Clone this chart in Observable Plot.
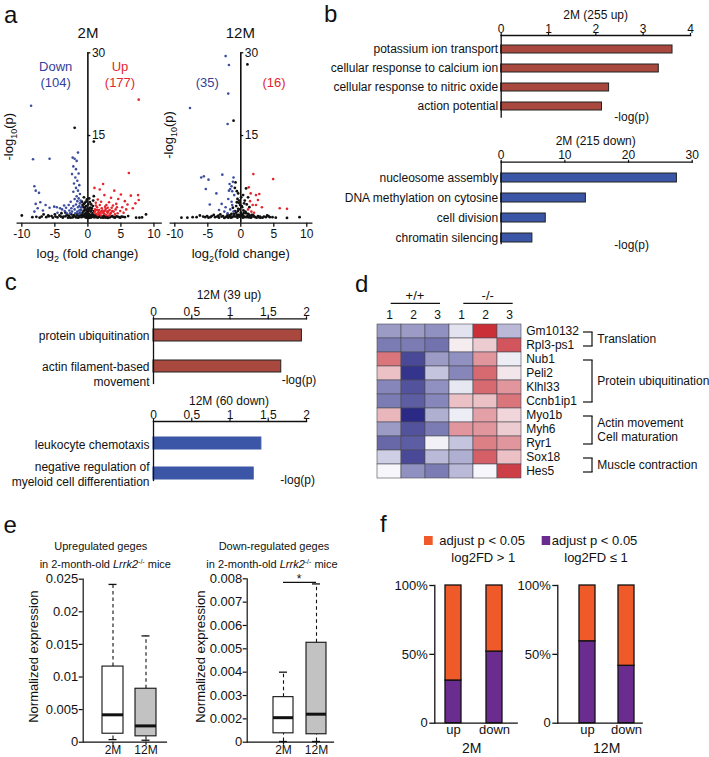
<!DOCTYPE html>
<html><head><meta charset="utf-8">
<script src="https://cdn.jsdelivr.net/npm/d3@7"></script>
<script src="https://cdn.jsdelivr.net/npm/@observablehq/plot@0.6"></script>
<style>
body{margin:0;background:#fff;}
#fig{position:relative;width:709px;height:757px;overflow:hidden;background:#fff;}
.p{position:absolute;}
.p svg{overflow:visible;}
</style></head><body><div id="fig"></div>
<script>
// ---------------- DATA ----------------
// a: volcano plots, [log2 fold change, -log10 p]
const volcanoXTicks = [-10, -5, 0, 5, 10];
const volcanoYTicks = [15, 30];
const v2mBlue = [[-8.6,20.4],[-8.3,10.7],[-5.8,10.8],[-8.1,5.8],[-7.9,5.0],[-7.4,4.6],[-7.9,2.6],[-7.2,2.9],[-6.4,2.4],[-7.6,1.8],[-8.1,1.2],[-6.8,1.4],[-5.8,1.9],[-5.1,2.1],[-4.7,2.0],[-4.2,1.8],[-3.9,1.6],[-3.5,1.3],[-4.6,1.0],[-3.2,0.9],[-2.8,1.4],[-2.5,1.8],[-2.2,2.2],[-2.0,1.6],[-1.8,2.5],[-1.6,3.1],[-1.5,2.0],[-1.3,1.4],[-1.2,2.7],[-1.1,1.0],[-2.3,11.0],[-2.0,10.8],[-1.7,10.4],[-1.5,11.9],[-2.2,9.4],[-1.8,8.9],[-1.4,8.1],[-2.4,8.0],[-1.9,7.4],[-1.6,6.8],[-2.1,6.3],[-1.3,6.0],[-1.8,5.5],[-1.5,5.0],[-2.2,4.8],[-1.2,4.4],[-1.7,4.0],[-2.0,3.5],[-1.4,3.6],[-2.6,3.0],[-1.1,3.2],[-2.9,2.4],[-3.3,1.9],[-2.4,1.2],[-1.9,0.9],[-1.4,0.8],[-1.0,2.0],[-3.6,2.3],[-1.3,2.2],[-1.6,1.2],[-1.0,1.5],[-2.7,0.9]];
const v2mRed = [[7.7,21.5],[6.2,8.2],[2.3,6.2],[1.8,5.2],[1.0,5.5],[2.5,4.2],[4.0,5.0],[5.0,4.3],[6.5,4.1],[7.6,4.2],[7.7,3.3],[5.6,3.1],[3.5,3.7],[4.6,3.5],[6.0,2.5],[6.8,1.8],[7.2,2.7],[5.2,2.0],[4.3,2.6],[3.2,2.9],[2.8,2.4],[1.5,3.4],[1.2,2.8],[2.0,3.0],[1.1,1.6],[1.4,2.0],[1.7,1.5],[2.1,1.8],[2.4,1.2],[2.7,1.7],[3.0,1.0],[3.3,1.5],[3.6,1.9],[3.9,1.2],[4.2,1.6],[4.5,0.9],[4.9,1.3],[5.4,1.0],[1.0,1.0],[1.3,0.8],[1.6,1.1],[1.9,0.9],[2.2,1.4],[2.5,0.8],[2.9,1.2],[3.4,0.8],[3.7,1.3],[4.1,0.7],[1.2,2.3],[1.8,2.4],[2.6,2.1],[3.0,1.9],[3.8,2.3],[4.4,2.0],[5.8,1.6],[1.5,0.6],[2.0,0.5],[2.8,0.6],[3.2,0.5],[1.1,1.3],[1.4,1.5],[2.3,1.0],[2.6,1.4],[3.1,1.3],[3.5,1.0],[1.7,0.8],[2.0,1.2]];
const v2mBlack = [[0.9,13.9],[-2.0,16.4],[0.9,4.0],[-10.0,0.5],[8.8,0.7],[7.3,0.1],[7.8,0.1],[8.2,0.15],[-8.4,0.2],[-7.8,0.25],[-7.0,0.3],[-6.3,0.2],[-5.5,0.4],[-4.9,0.3],[-4.3,0.5],[-3.7,0.3],[-3.2,0.6],[-2.8,0.2],[-2.5,0.7],[-2.2,0.4],[-1.9,0.3],[-1.6,0.6],[-1.3,0.2],[-1.0,0.5],[-0.8,1.0],[-0.6,0.3],[-0.5,1.5],[-0.4,0.7],[-0.3,2.2],[-0.2,0.4],[-0.1,1.1],[0,0.2],[0.1,0.8],[0.2,1.6],[0.3,0.3],[0.4,1.2],[0.5,2.5],[0.6,0.5],[0.7,0.9],[0.8,3.2],[0.9,0.2],[1.1,0.4],[1.3,0.2],[1.6,0.3],[1.9,0.2],[2.2,0.3],[2.5,0.2],[2.8,0.35],[3.1,0.2],[3.5,0.3],[3.9,0.2],[4.3,0.35],[4.7,0.2],[5.1,0.3],[5.6,0.2],[6.1,0.4],[-0.7,2.0],[-0.9,3.0],[-0.6,3.8],[0.3,2.9],[-1.1,1.5],[0.6,1.8],[-0.2,0.1],[0.15,0.05],[-0.35,0.15],[0.45,0.1],[-1.5,0.1],[1.5,0.1],[-2.3,0.15],[2.3,0.1],[-3.0,0.1],[3.0,0.05],[-0.45,2.8],[-0.15,3.4],[0.05,2.5],[-5.0,0.7],[-4.0,0.9],[-6.7,0.7],[-3.4,1.0],[-3.8,0.1],[-3.4,0.35],[-2.9,0.45],[-2.6,0.1],[-2.1,0.55],[-1.8,0.15],[-1.7,0.8],[-1.4,0.45],[-1.2,0.9],[-0.95,0.2],[-0.85,0.7],[-0.7,0.45],[-0.65,1.3],[-0.55,0.6],[-0.45,1.9],[-0.35,0.9],[-0.25,1.4],[-0.15,0.6],[-0.05,1.8],[0.05,0.4],[0.1,1.3],[0.25,0.7],[0.35,1.9],[0.45,0.5],[0.55,1.4],[0.65,0.25],[0.75,2.2],[0.85,0.6],[0.95,1.3],[1.05,0.2],[1.2,0.55],[1.4,0.35],[1.7,0.5],[2.0,0.15],[2.4,0.45],[2.7,0.1],[3.3,0.15],[3.7,0.4],[4.1,0.1],[4.5,0.3],[4.9,0.1],[5.3,0.25],[-5.3,0.1],[-4.6,0.15],[-4.1,0.3],[-5.9,0.35],[-0.6,2.6],[-0.3,3.0],[0.2,3.6],[-0.8,2.4],[-6.0,0.5],[-7.3,0.1]];
const v12mBlue = [[-2.3,29.4],[-1.8,27.8],[-1.9,22.6],[-7.7,20.0],[-2.0,17.1],[-6.0,7.4],[-5.6,7.6],[-4.9,7.0],[-2.8,7.9],[-5.3,5.3],[-3.7,4.5],[-4.7,2.5],[-2.9,2.6],[-1.7,6.2],[-1.4,5.8],[-1.6,5.3],[-1.2,6.6],[-1.1,7.4],[-1.8,5.0],[-1.3,4.9],[-1.0,4.2],[-1.9,3.5],[-2.3,2.0],[-2.5,1.2],[-1.6,1.6],[-1.3,2.4],[-3.3,1.5],[-2.0,0.9],[-1.1,1.2],[-1.4,3.0]];
const v12mRed = [[1.9,8.0],[4.9,7.1],[1.2,5.6],[1.5,4.5],[2.8,4.4],[2.3,4.2],[1.8,2.4],[2.3,2.4],[5.9,1.8],[7.0,1.7],[1.4,3.1],[2.6,3.3],[1.1,1.6],[3.2,2.0],[1.6,1.2],[2.0,1.0]];
const v12mBlack = [[1.0,27.9],[-1.1,17.7],[-0.8,6.5],[-0.9,5.5],[-0.6,4.9],[0.8,5.4],[1.1,3.8],[0.6,3.2],[0.9,2.5],[1.3,2.0],[-0.5,3.5],[-0.3,2.8],[-0.7,2.2],[0.2,2.0],[-9.0,0.1],[-8.1,0.1],[-7.3,0.2],[-6.2,0.5],[-5.7,0.3],[-5.1,0.4],[-4.6,0.2],[-4.1,0.6],[-3.6,0.3],[-3.1,0.7],[-2.7,0.4],[-2.3,0.2],[-2.0,0.6],[-1.7,0.3],[-1.4,0.8],[-1.1,0.4],[-0.9,1.3],[-0.6,0.6],[-0.4,1.7],[-0.2,0.3],[0,1.0],[0.2,0.5],[0.4,1.4],[0.6,0.2],[0.8,0.9],[1.0,0.4],[1.3,0.6],[1.6,0.2],[1.9,0.5],[2.2,0.2],[2.6,0.4],[3.0,0.1],[3.5,0.3],[4.0,0.5],[4.4,0.2],[5.3,0.1],[7.0,0.05],[8.9,0.2],[-0.1,2.4],[-1.2,1.9],[0.5,2.7],[-0.5,0.1],[0.3,0.1],[-1.5,0.1],[1.5,0.1],[2.8,0.15],[-3.3,0.1],[-6.7,0.2],[-2.5,0.05],[-2.1,0.35],[-1.9,0.1],[-1.6,0.55],[-1.3,0.2],[-1.0,0.75],[-0.85,0.3],[-0.7,1.0],[-0.55,0.4],[-0.45,1.3],[-0.3,0.6],[-0.15,1.6],[-0.05,0.3],[0.1,0.8],[0.15,2.2],[0.3,0.5],[0.45,0.9],[0.55,0.3],[0.7,1.2],[0.9,0.2],[1.1,0.8],[1.2,0.15],[1.4,0.4],[1.7,0.6],[2.0,0.3],[2.4,0.1],[2.9,0.3],[3.3,0.1],[3.8,0.2],[4.2,0.4],[4.8,0.2],[-3.9,0.2],[-4.4,0.4],[-4.9,0.1],[-5.4,0.2],[-2.9,0.3],[-3.4,0.45],[-0.25,3.2],[0.05,3.8],[-0.6,2.9],[0.35,4.2],[-0.4,4.5]];

// b: GO terms 2M
const bUpTerms = ["potassium ion transport", "cellular response to calcium ion", "cellular response to nitric oxide", "action potential"];
const bUpValues = [3.62, 3.33, 2.28, 2.13];
const bUpTicks = [0, 1, 2, 3, 4];
const bDownTerms = ["nucleosome assembly", "DNA methylation on cytosine", "cell division", "chromatin silencing"];
const bDownValues = [27.6, 13.3, 7.0, 4.9];
const bDownTicks = [0, 10, 20, 30];

// c: GO terms 12M
const cUpTerms = ["protein ubiquitination", "actin filament-based\nmovement"];
const cUpValues = [1.94, 1.67];
const cDownTerms = ["leukocyte chemotaxis", "negative regulation of\nmyeloid cell differentiation"];
const cDownValues = [1.41, 1.31];
const cTicks = [0, 0.5, 1, 1.5, 2];

// d: heatmap
const heatCols = ["+/+ 1", "+/+ 2", "+/+ 3", "-/- 1", "-/- 2", "-/- 3"];
const heatGenes = ["Gm10132", "Rpl3-ps1", "Nub1", "Peli2", "Klhl33", "Ccnb1ip1", "Myo1b", "Myh6", "Ryr1", "Sox18", "Hes5"];
const heatValues = [
  [-0.45, -0.45, -0.5, -0.1, 0.92, -0.3],
  [-0.6, -0.6, -0.65, 0.05, 0.2, 0.75],
  [0.6, -0.85, -0.45, -0.5, 0.45, -0.05],
  [0.25, -0.95, -0.25, -0.55, 0.65, 0.08],
  [-0.55, -0.8, -0.5, -0.08, 0.65, 0.45],
  [-0.6, -0.75, -0.55, 0.25, 0.25, 0.6],
  [0.3, -1.0, -0.35, -0.05, 0.4, 0.15],
  [-0.45, -0.8, -0.6, 0.45, 0.45, 0.2],
  [-0.7, -0.75, -0.03, -0.25, 0.55, 0.45],
  [-0.2, -0.85, -0.3, -0.35, 0.7, 0.25],
  [0, -0.5, -0.6, -0.3, 0, 0.85]
];
const heatBrackets = [[0, 1], [2, 5], [6, 8], [9, 10]];
const heatGroupLabels = ["Translation", "Protein ubiquitination", "Actin movement", "Cell maturation", "Muscle contraction"];
const heatGroupRows = [[0, 1], [2, 5], [6, 7], [7, 8], [9, 10]];

// e: box plots [min, q1, median, q3, max]
const eGroups = ["2M", "12M"];
const eUp2M = [0.0004, 0.0013, 0.0042, 0.0116, 0.0242];
const eUp12M = [0.0003, 0.0009, 0.0025, 0.0082, 0.0163];
const eUpTicks = [0, 0.005, 0.01, 0.015, 0.02, 0.025];
const eDown2M = [0.00103, 0.00138, 0.00205, 0.00293, 0.0040];
const eDown12M = [0.00103, 0.00134, 0.0022, 0.00526, 0.00778];
const eDownTicks = [0.001, 0.002, 0.003, 0.004, 0.005, 0.006, 0.007, 0.008];
const eDownTickLabels = ["0", "0.002", "0.003", "0.004", "0.005", "0.006", "0.007", "0.008"];
const eDownSig = [0.00785];

// f: share of DE genes with log2FD <= 1 (%)
const fCats = ["up", "down"];
const fLow2M = [31, 52];
const fLow12M = [59.5, 41.7];
const fTicks = [0, 50, 100];

// ---------------- RENDER ----------------
const FONT = '"Liberation Sans", Arial, Helvetica, sans-serif';
const INK = "#111";
const fig = document.getElementById("fig");
function st(size) { return {fontFamily: FONT, fontSize: size + "px", background: "transparent", overflow: "visible", color: INK}; }
function place(svg, left, top) {
  const d = document.createElement("div");
  d.className = "p"; d.style.left = left + "px"; d.style.top = top + "px";
  d.style.width = svg.getAttribute("width") + "px";
  d.appendChild(svg); fig.appendChild(d); return svg;
}
const P = d => d[0], Q = d => d[1];

// ---- a: volcanoes
function volcano(black, blue, red, width, ml, mr, xDomain) {
  return Plot.plot({
    width, height: 210, marginTop: 12.3, marginBottom: 27.3, marginLeft: ml, marginRight: mr,
    style: st(12),
    x: {domain: xDomain}, y: {domain: [-0.9, 30], axis: null},
    marks: [
      Plot.dot(black, {x: P, y: Q, r: 1.4, fill: "#111"}),
      Plot.dot(blue, {x: P, y: Q, r: 1.3, fill: "#3c4d9e"}),
      Plot.dot(red, {x: P, y: Q, r: 1.3, fill: "#e3262d"}),
      Plot.ruleX([0], {strokeWidth: 1.6}),
      Plot.ruleY(volcanoYTicks, {y: d => d, x1: 0, x2: 0.45, strokeWidth: 1.3}),
      Plot.text(volcanoYTicks, {y: d => d, x: 0, text: d => String(d), dx: 4, textAnchor: "start", fontSize: 12}),
      Plot.axisX({ticks: volcanoXTicks, tickFormat: d => String(d), tickSize: 4, tickPadding: 2, strokeWidth: 1.3, label: null}),
      Plot.frame({anchor: "bottom", strokeWidth: 1.3})
    ]
  });
}
place(volcano(v2mBlack, v2mBlue, v2mRed, 175, 16.7, 14.3, [-10.7, 11.1]), 0, 40);
place(volcano(v12mBlack, v12mBlue, v12mRed, 160, 9.7, 8.7, [-10.7, 10.76]), 160, 40);

// ---- b and c: GO bars
function goBars({terms, values, ticks, fmt, width, height, ml, mr, mt, mb, xMax, yRange, pad, fill, stroke, textLabels, lineAnchor, dyLab}) {
  const rows = terms.map((t, i) => ({t, v: values[i]}));
  const marks = [
    Plot.barX(rows, {x: "v", y: "t", fill, stroke, strokeWidth: 1}),
    Plot.frame({anchor: "left", strokeWidth: 1.3}),
    Plot.frame({anchor: "top", strokeWidth: 1.3}),
    Plot.axisX({anchor: "top", ticks, tickFormat: fmt, tickSize: 3, tickPadding: 0, strokeWidth: 1.2, label: null})
  ];
  if (textLabels) marks.push(Plot.text(rows, {y: "t", text: "t", frameAnchor: "left", textAnchor: "end", dx: -4, dy: dyLab, lineAnchor, lineHeight: 1.3, fontSize: 12}));
  else marks.push(Plot.axisY({anchor: "left", tickSize: 0, tickPadding: 3, label: null}));
  return Plot.plot({
    width, height, marginLeft: ml, marginRight: mr, marginTop: mt, marginBottom: mb,
    style: st(12),
    x: {domain: [0, xMax]},
    y: {domain: terms, range: yRange, padding: pad, axis: textLabels ? null : undefined},
    marks
  });
}
const RED_BAR = "#a8483f", BLUE_BAR = "#3b56a6";
place(goBars({terms: bUpTerms, values: bUpValues, ticks: bUpTicks, fmt: d => String(d), width: 389, height: 125, ml: 180.7, mr: 19, mt: 35, mb: 8.3, xMax: 4, yRange: [32, 122.3], pad: 0.593, fill: RED_BAR, stroke: "#222"}), 320, 0);
place(goBars({terms: bDownTerms, values: bDownValues, ticks: bDownTicks, fmt: d => String(d), width: 389, height: 130, ml: 180.7, mr: 17.3, mt: 36.7, mb: 12, xMax: 30, yRange: [36, 128], pad: 0.554, fill: BLUE_BAR, stroke: "#222"}), 320, 125);
place(goBars({terms: cUpTerms, values: cUpValues, ticks: cTicks, fmt: d => String(d).replace(".", ","), width: 340, height: 100, ml: 153, mr: 34, mt: 33.3, mb: 2, xMax: 2, yRange: [25.2, 105.9], pad: 0.603, fill: RED_BAR, stroke: "#222", textLabels: true, lineAnchor: "top", dyLab: -7}), 0, 285);
place(goBars({terms: cDownTerms, values: cDownValues, ticks: cTicks, fmt: d => String(d), width: 340, height: 95, ml: 153, mr: 34, mt: 26, mb: 10, xMax: 2, yRange: [22.8, 102.3], pad: 0.615, fill: BLUE_BAR, stroke: BLUE_BAR, textLabels: true, lineAnchor: "middle", dyLab: 0}), 0, 395);

// ---- d: heatmap
const heatRows = [];
heatGenes.forEach((g, i) => heatCols.forEach((c, j) => heatRows.push({gene: g, col: c, v: heatValues[i][j]})));
const heat = place(Plot.plot({
  width: 369, height: 190, marginLeft: 37.3, marginRight: 187.3, marginTop: 20, marginBottom: 8.5,
  style: st(12),
  x: {domain: heatCols, padding: 0},
  y: {domain: heatGenes, padding: 0},
  color: {type: "linear", domain: [-1, 0, 1], range: ["#2a2a86", "#f7f7fb", "#c61e27"]},
  marks: [
    Plot.cell(heatRows, {x: "col", y: "gene", fill: "v", stroke: "#4a4a55", strokeWidth: 0.6}),
    Plot.axisX({anchor: "top", tickSize: 0, tickPadding: 2, tickFormat: c => c.split(" ")[1], label: null}),
    Plot.axisY({anchor: "right", tickSize: 0, tickPadding: 4, label: null})
  ]
}), 340, 300);

// ---- e: box plots
const boxFill = {"2M": "#ffffff", "12M": "#c2c2c2"};
function boxPlot({stats, yDomain, yTicks, yFmt, width, height, ml, mr, mt, mb, xRange, pad, capInset, sig}) {
  const rows = eGroups.map((g, i) => ({g, min: stats[i][0], q1: stats[i][1], med: stats[i][2], q3: stats[i][3], max: stats[i][4]}));
  const marks = [
    Plot.ruleX(rows, {x: "g", y1: "q3", y2: "max", strokeDasharray: "3.5,3", strokeWidth: 1.1}),
    Plot.ruleX(rows, {x: "g", y1: "min", y2: "q1", strokeDasharray: "3.5,3", strokeWidth: 1.1}),
    Plot.barY(rows, {x: "g", y1: "q1", y2: "q3", fill: d => boxFill[d.g], stroke: INK, strokeWidth: 1.1}),
    Plot.tickY(rows, {x: "g", y: "med", strokeWidth: 3}),
    Plot.tickY(rows, {x: "g", y: "max", strokeWidth: 1.3, insetLeft: capInset, insetRight: capInset}),
    Plot.tickY(rows, {x: "g", y: "min", strokeWidth: 1.3, insetLeft: capInset, insetRight: capInset}),
    Plot.frame({anchor: "left", strokeWidth: 1.2}),
    Plot.frame({anchor: "bottom", strokeWidth: 1.2}),
    Plot.axisY({ticks: yTicks, tickFormat: yFmt, tickSize: 4, tickPadding: 1, strokeWidth: 1.2, label: null}),
    Plot.axisX({tickSize: 3, tickPadding: 0, strokeWidth: 1.2, fontSize: 12, label: null})
  ];
  if (sig) marks.push(Plot.ruleY(sig, {y: d => d, x1: () => eGroups[0], x2: () => eGroups[1], insetLeft: 10, insetRight: 10, strokeWidth: 1.2}));
  return Plot.plot({
    width, height, marginLeft: ml, marginRight: mr, marginTop: mt, marginBottom: mb,
    style: st(13),
    x: {domain: eGroups, range: xRange, padding: pad},
    y: {domain: yDomain},
    marks
  });
}
place(boxPlot({stats: [eUp2M, eUp12M], yDomain: [0, 0.025], yTicks: eUpTicks, yFmt: d => d === 0 ? "0" : d3.format(".3~f")(d), width: 175, height: 187, ml: 82.7, mr: 9, mt: 8.7, mb: 15.3, xRange: [90.5, 168.5], pad: 0.3636, capInset: 6.5}), 0, 570);
place(boxPlot({stats: [eDown2M, eDown12M], yDomain: [0.001, 0.008], yTicks: eDownTicks, yFmt: d => eDownTickLabels[eDownTicks.indexOf(d)], width: 175, height: 187, ml: 81.7, mr: 7, mt: 8.3, mb: 15.3, xRange: [93.9, 175.3], pad: 0.408, capInset: 6, sig: eDownSig}), 165, 570);

// ---- f: stacked percentage bars
const ORANGE = "#f05a28", PURPLE = "#6a2c8f";
function shareBars(low, width, ml, mr, xRange, pad) {
  const rows = fCats.map((c, i) => ({c, low: low[i]}));
  return Plot.plot({
    width, height: 182, marginLeft: ml, marginRight: mr, marginTop: 10, marginBottom: 34.3,
    style: st(13),
    x: {domain: fCats, range: xRange, padding: pad},
    y: {domain: [0, 100]},
    marks: [
      Plot.barY(rows, {x: "c", y1: 0, y2: "low", fill: PURPLE, stroke: INK, strokeWidth: 1.3}),
      Plot.barY(rows, {x: "c", y1: "low", y2: 100, fill: ORANGE, stroke: INK, strokeWidth: 1.3}),
      Plot.frame({anchor: "left", strokeWidth: 1.3}),
      Plot.frame({anchor: "bottom", strokeWidth: 1.3}),
      Plot.axisY({ticks: fTicks, tickFormat: d => d === 0 ? "0" : d + "%", tickSize: 5, tickPadding: 2, strokeWidth: 1.3, label: null}),
      Plot.axisX({tickSize: 0, tickPadding: 2, label: null})
    ]
  });
}
place(shareBars(fLow2M, 145, 54.3, 8.3, [39.1, 147.5], 0.606), 380, 575);
place(shareBars(fLow12M, 150, 52.3, 13.3, [50, 153.7], 0.5925), 505, 575);

// ---------------- ANNOTATION OVERLAY ----------------
const ov = d3.select(fig).append("svg").attr("width", 709).attr("height", 757)
  .attr("style", "position:absolute;left:0;top:0;overflow:visible;pointer-events:none")
  .attr("font-family", FONT);
function T(x, y, parts, o = {}) {
  const t = ov.append("text").attr("x", x).attr("y", y).attr("font-size", o.size || 12)
    .attr("text-anchor", o.anchor || "start").attr("fill", o.fill || INK);
  if (o.rotate) t.attr("transform", `rotate(${o.rotate},${x},${y})`);
  if (typeof parts === "string") parts = [parts];
  let cur = 0;
  for (const p of parts) {
    const q = typeof p === "string" ? {t: p} : p;
    const s = t.append("tspan").text(q.t);
    const off = q.dy || 0;
    if (off !== cur) { s.attr("dy", off - cur); cur = off; }
    if (q.italic) s.attr("font-style", "italic");
    if (q.size) s.attr("font-size", q.size);
  }
  return t;
}
function L(x1, y1, x2, y2, w = 1.2) { ov.append("line").attr("x1", x1).attr("y1", y1).attr("x2", x2).attr("y2", y2).attr("stroke", INK).attr("stroke-width", w); }

// panel letters
T(10.8, 22.5, "a", {size: 24, anchor: "middle"});
T(330.8, 22, "b", {size: 24, anchor: "middle"});
T(10.8, 290, "c", {size: 24, anchor: "middle"});
T(361.7, 291.7, "d", {size: 24, anchor: "middle"});
T(10.3, 533.3, "e", {size: 24, anchor: "middle"});
T(383.3, 531.7, "f", {size: 24, anchor: "middle"});

// a
const BLUE_T = "#34409a", RED_T = "#e3262d";
T(88, 38, "2M", {size: 15, anchor: "middle"});
T(240.3, 38, "12M", {size: 15, anchor: "middle"});
T(55.7, 70.7, "Down", {size: 13, anchor: "middle", fill: BLUE_T});
T(55.7, 87.4, "(104)", {size: 13, anchor: "middle", fill: BLUE_T});
T(120, 70.7, "Up", {size: 13, anchor: "middle", fill: RED_T});
T(120, 87.4, "(177)", {size: 13, anchor: "middle", fill: RED_T});
T(207.3, 87.4, "(35)", {size: 13, anchor: "middle", fill: BLUE_T});
T(274, 87.4, "(16)", {size: 13, anchor: "middle", fill: RED_T});
T(87.5, 257.7, ["log", {t: "2", dy: 4, size: 9}, " (fold change)"], {size: 13, anchor: "middle"});
T(240.8, 257.7, ["log", {t: "2", dy: 4, size: 9}, "(fold change)"], {size: 13, anchor: "middle"});
T(12.8, 136.7, ["-log", {t: "10", dy: 4, size: 9}, "(p)"], {size: 13, anchor: "middle", rotate: -90});
T(172.5, 135, ["-log", {t: "10", dy: 4, size: 9}, "(p)"], {size: 13, anchor: "middle", rotate: -90});

// b, c
T(595.7, 19, "2M (255 up)", {anchor: "middle"});
T(631.7, 121, "-log(p)", {anchor: "middle"});
T(595.7, 145, "2M (215 down)", {anchor: "middle"});
T(631.7, 249, "-log(p)", {anchor: "middle"});
T(229, 298.5, "12M (39 up)", {anchor: "middle"});
T(299, 384, "-log(p)", {anchor: "middle"});
T(229, 405, "12M (60 down)", {anchor: "middle"});
T(297.7, 484, "-log(p)", {anchor: "middle"});

// d headers and brackets
T(415, 299.5, "+/+", {size: 13, anchor: "middle"});
T(487.7, 299.5, "-/-", {size: 13, anchor: "middle"});
L(390.7, 303.3, 440, 303.3);
L(463.3, 303.3, 512.7, 303.3);
const hy = heat.scale("y");
const rowY = i => 300 + hy.apply(heatGenes[i]) + hy.bandwidth / 2;
heatBrackets.forEach(([a, b]) => {
  L(592, rowY(a) + 1, 592, rowY(b) + 1);
  L(583, rowY(a) + 1, 592.6, rowY(a) + 1);
  L(583, rowY(b) + 1, 592.6, rowY(b) + 1);
});
heatGroupLabels.forEach((lab, k) => {
  const [a, b] = heatGroupRows[k];
  T(597.3, (rowY(a) + rowY(b)) / 2 + 4.5, lab, {size: 12});
});

// e
T(100.8, 549.5, "Upregulated geges", {size: 11, anchor: "middle"});
T(105.3, 567.5, ["in 2-month-old ", {t: "Lrrk2", italic: true}, {t: "-/-", dy: -4, size: 7}, " mice"], {size: 11, anchor: "middle"});
T(274, 549.5, "Down-regulated geges", {size: 11, anchor: "middle"});
T(272, 567.5, ["in 2-month-old ", {t: "Lrrk2", italic: true}, {t: "-/-", dy: -4, size: 7}, " mice"], {size: 11, anchor: "middle"});
T(38, 656.7, "Normalized expression", {size: 13, anchor: "middle", rotate: -90});
T(204.7, 656.7, "Normalized expression", {size: 13, anchor: "middle", rotate: -90});
T(299, 583, "*", {size: 12, anchor: "middle"});

// f legend and titles
ov.append("rect").attr("x", 424).attr("y", 536).attr("width", 8.7).attr("height", 9).attr("fill", ORANGE);
ov.append("rect").attr("x", 541.7).attr("y", 536).attr("width", 8.5).attr("height", 9).attr("fill", PURPLE);
T(439.3, 544.7, "adjust p < 0.05", {size: 13});
T(551.7, 544.7, "adjust p < 0.05", {size: 13});
T(483.3, 562, "log2FD > 1", {size: 13, anchor: "middle"});
T(596, 562, "log2FD \u2264 1", {size: 13, anchor: "middle"});
T(471.7, 753, "2M", {size: 14, anchor: "middle"});
T(606.7, 753, "12M", {size: 14, anchor: "middle"});
</script>
</body></html>
